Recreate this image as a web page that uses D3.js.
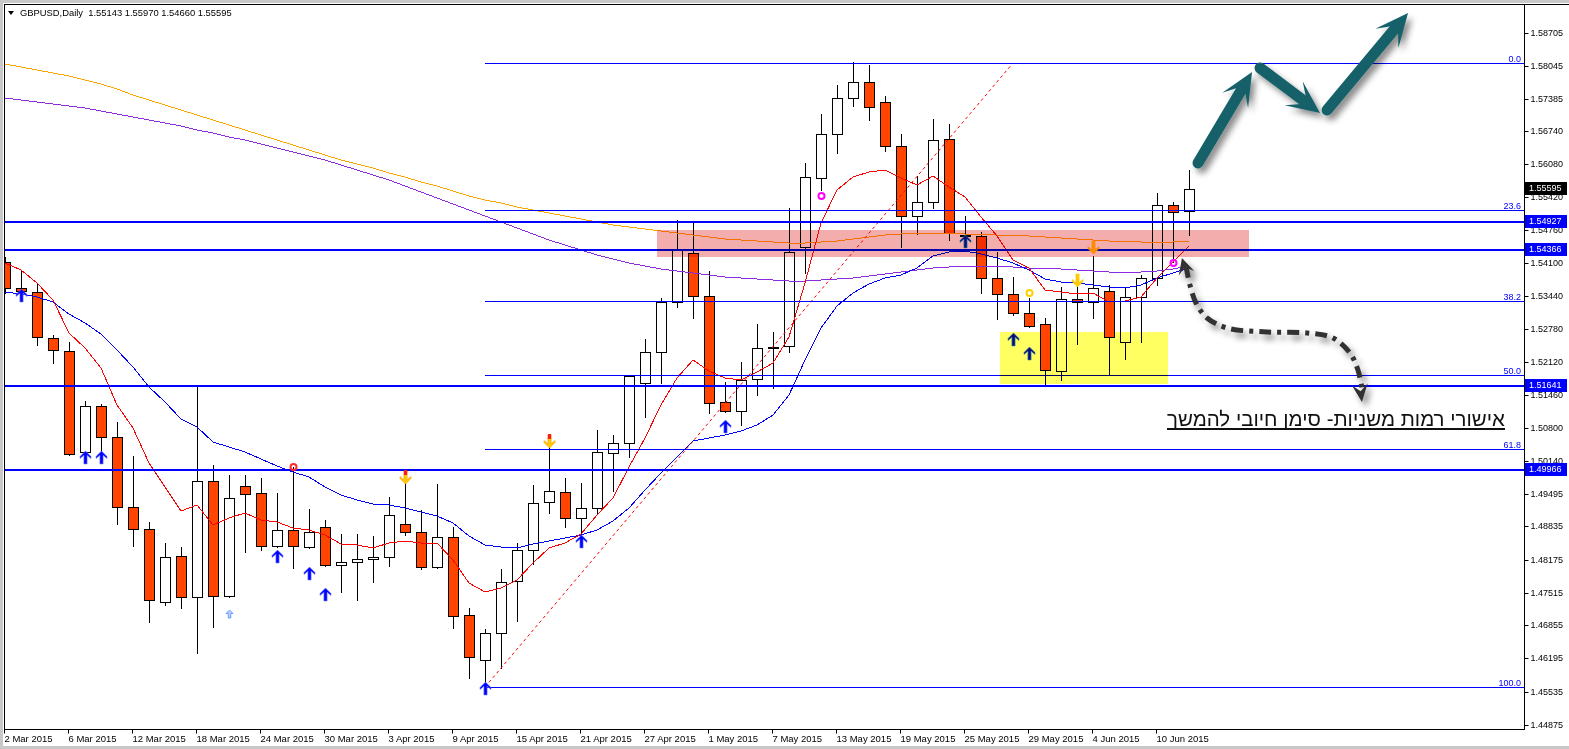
<!DOCTYPE html>
<html><head><meta charset="utf-8">
<script src="https://cdn.jsdelivr.net/npm/d3@7"></script>
<style>html,body{margin:0;padding:0;background:#fff;overflow:hidden}svg{display:block}</style>
</head><body>
<svg id="chart" width="1569" height="749"></svg>
<script>
// ---------------- DATA ----------------
const symbol = "GBPUSD,Daily";
const barDates = ["2015-03-02","2015-03-03","2015-03-04","2015-03-05","2015-03-06","2015-03-09","2015-03-10","2015-03-11","2015-03-12","2015-03-13","2015-03-16","2015-03-17","2015-03-18","2015-03-19","2015-03-20","2015-03-23","2015-03-24","2015-03-25","2015-03-26","2015-03-27","2015-03-30","2015-03-31","2015-04-01","2015-04-02","2015-04-03","2015-04-06","2015-04-07","2015-04-08","2015-04-09","2015-04-10","2015-04-13","2015-04-14","2015-04-15","2015-04-16","2015-04-17","2015-04-20","2015-04-21","2015-04-22","2015-04-23","2015-04-24","2015-04-27","2015-04-28","2015-04-29","2015-04-30","2015-05-01","2015-05-04","2015-05-05","2015-05-06","2015-05-07","2015-05-08","2015-05-11","2015-05-12","2015-05-13","2015-05-14","2015-05-15","2015-05-18","2015-05-19","2015-05-20","2015-05-21","2015-05-22","2015-05-25","2015-05-26","2015-05-27","2015-05-28","2015-05-29","2015-06-01","2015-06-02","2015-06-03","2015-06-04","2015-06-05","2015-06-08","2015-06-09","2015-06-10","2015-06-11","2015-06-12"];
const openP = [1.54125,1.53605,1.53525,1.52605,1.52345,1.50325,1.51245,1.50625,1.49225,1.48785,
 1.47325,1.48245,1.47425,1.49745,1.47445,1.49645,1.49505,1.48445,1.48765,1.48425,
 1.48825,1.48065,1.48125,1.48185,1.48225,1.48885,1.48725,1.48025,1.48625,1.47065,
 1.46165,1.46705,1.47745,1.48365,1.49325,1.49525,1.49005,1.49205,1.50305,1.50505,
 1.51705,1.52325,1.53325,1.54305,1.53445,1.51325,1.51145,1.51785,1.52405,1.52445,
 1.54425,1.55805,1.56685,1.57405,1.57725,1.57325,1.56445,1.55045,1.55325,1.56585,
 1.54665,1.54645,1.53805,1.53485,1.53105,1.52885,1.51945,1.53385,1.53325,1.53545,
 1.52525,1.53425,1.53805,1.55265,1.55143];
const highP = [1.54225,1.53945,1.53705,1.52665,1.52525,1.51345,1.51285,1.50925,1.50245,1.48925,
 1.48505,1.48425,1.51625,1.50065,1.49865,1.49865,1.49805,1.49505,1.50025,1.49185,
 1.48965,1.48685,1.48685,1.48645,1.49425,1.49725,1.49165,1.49685,1.48825,1.47205,
 1.46785,1.47985,1.48505,1.49665,1.50565,1.49805,1.49705,1.50765,1.50665,1.51845,
 1.52585,1.53405,1.54965,1.54905,1.53945,1.51725,1.52125,1.52885,1.52725,1.55205,
 1.56105,1.57085,1.57665,1.58125,1.58065,1.57445,1.56685,1.55845,1.56985,1.56885,
 1.55045,1.54725,1.54325,1.53825,1.53405,1.53005,1.53625,1.53705,1.54245,1.53665,
 1.53625,1.53865,1.55505,1.55325,1.55970];
const lowP = [1.53505,1.53505,1.52465,1.52105,1.50265,1.50305,1.50305,1.48885,1.48445,1.46925,
 1.47265,1.47205,1.46305,1.46825,1.47425,1.48325,1.48365,1.48425,1.48005,1.48405,
 1.48045,1.47525,1.47365,1.47725,1.48045,1.48665,1.47985,1.48005,1.46805,1.45805,
 1.45625,1.46005,1.46945,1.48085,1.49105,1.48825,1.48665,1.49105,1.49545,1.50225,
 1.51025,1.51705,1.53225,1.53005,1.51105,1.51125,1.50865,1.51465,1.51605,1.52325,
 1.53905,1.55565,1.56305,1.57245,1.56965,1.56345,1.54425,1.54685,1.55205,1.54565,
 1.54465,1.53505,1.52985,1.53065,1.52825,1.51645,1.51765,1.52485,1.53005,1.51865,
 1.52185,1.52525,1.53665,1.54125,1.54660];
const closeP = [1.53605,1.53545,1.52625,1.52365,1.50285,1.51245,1.50625,1.49225,1.48785,1.47365,
 1.48225,1.47425,1.49745,1.47445,1.49405,1.49485,1.48445,1.48765,1.48445,1.48725,
 1.48065,1.48125,1.48185,1.48225,1.49065,1.48725,1.48025,1.48625,1.47045,1.46225,
 1.46705,1.47725,1.48365,1.49305,1.49545,1.49005,1.49205,1.50325,1.50505,1.51845,
 1.52325,1.53325,1.54365,1.53445,1.51305,1.51145,1.51765,1.52405,1.52425,1.54325,
 1.55825,1.56685,1.57405,1.57725,1.57225,1.56445,1.55045,1.55325,1.56565,1.54705,
 1.54645,1.53805,1.53485,1.53105,1.52845,1.51965,1.53385,1.53325,1.53605,1.52625,
 1.53425,1.53805,1.55265,1.55125,1.55595];
// moving averages (red fast, blue mid, purple slow, orange long)
const maFast = [1.54105,1.53965,1.53705,1.53365,1.52705,1.52405,1.52005,1.51265,1.50805,1.50105,
 1.49625,1.49145,1.49265,1.48865,1.49005,1.49105,1.48965,1.48925,1.48805,1.48765,
 1.48665,1.48485,1.48465,1.48405,1.48505,1.48545,1.48505,1.48505,1.48165,1.47705,
 1.47525,1.47605,1.47765,1.48105,1.48405,1.48505,1.48685,1.49065,1.49405,1.50025,
 1.50605,1.51265,1.51805,1.52165,1.51945,1.51805,1.51765,1.51925,1.52105,1.52625,
 1.53705,1.54905,1.55565,1.55825,1.55925,1.55965,1.55805,1.55665,1.55845,1.55625,
 1.55425,1.55025,1.54645,1.54165,1.54005,1.53565,1.53525,1.53485,1.53505,1.53325,
 1.53345,1.53425,1.53805,1.54125,1.54445];
const maMid = [1.53525,1.53485,1.53425,1.53325,1.53085,1.52905,1.52685,1.52365,1.52025,1.51625,
 1.51325,1.50985,1.50825,1.50525,1.50425,1.50325,1.50185,1.50045,1.49925,1.49825,
 1.49625,1.49465,1.49365,1.49285,1.49265,1.49205,1.49125,1.49045,1.48905,1.48645,
 1.48465,1.48425,1.48405,1.48485,1.48545,1.48605,1.48665,1.48765,1.48945,1.49205,
 1.49565,1.49905,1.50225,1.50545,1.50605,1.50665,1.50745,1.50865,1.51065,1.51465,
 1.52165,1.52805,1.53245,1.53505,1.53685,1.53805,1.53865,1.54005,1.54245,1.54325,
 1.54345,1.54285,1.54205,1.54105,1.53965,1.53785,1.53725,1.53705,1.53665,1.53625,
 1.53605,1.53665,1.53805,1.53905,1.54005];
const maSlow = [1.57405,1.57365,1.57325,1.57285,1.57245,1.57205,1.57145,1.57085,1.57025,1.56965,
 1.56905,1.56845,1.56765,1.56705,1.56625,1.56565,1.56485,1.56405,1.56325,1.56245,
 1.56165,1.56065,1.55965,1.55865,1.55765,1.55645,1.55525,1.55405,1.55285,1.55165,
 1.55045,1.54925,1.54805,1.54685,1.54565,1.54465,1.54365,1.54265,1.54185,1.54105,
 1.54045,1.53985,1.53945,1.53905,1.53865,1.53825,1.53805,1.53785,1.53765,1.53745,
 1.53745,1.53765,1.53785,1.53805,1.53845,1.53885,1.53925,1.53965,1.54005,1.54025,
 1.54045,1.54045,1.54045,1.54025,1.54005,1.54005,1.53985,1.53965,1.53945,1.53925,
 1.53925,1.53925,1.53945,1.53985,1.54045];
const maLong = [1.58085,1.58025,1.57965,1.57905,1.57845,1.57765,1.57685,1.57585,1.57465,1.57365,
 1.57265,1.57165,1.57065,1.56965,1.56865,1.56765,1.56665,1.56565,1.56465,1.56365,
 1.56265,1.56165,1.56085,1.56005,1.55905,1.55825,1.55725,1.55645,1.55545,1.55445,
 1.55365,1.55305,1.55225,1.55165,1.55105,1.55045,1.54985,1.54925,1.54865,1.54825,
 1.54785,1.54745,1.54705,1.54665,1.54625,1.54585,1.54565,1.54545,1.54525,1.54505,
 1.54505,1.54525,1.54545,1.54585,1.54625,1.54665,1.54685,1.54705,1.54705,1.54705,
 1.54685,1.54685,1.54665,1.54665,1.54645,1.54625,1.54605,1.54585,1.54565,1.54545,
 1.54545,1.54525,1.54525,1.54525,1.54545];
const priceTicks = [1.58705,1.58045,1.57385,1.56740,1.56080,1.55420,1.54760,1.54100,1.53440,1.52780,1.52120,1.51460,1.50800,1.50140,1.49495,1.48835,1.48175,1.47515,1.46855,1.46195,1.45535,1.44875];
const dateTickIdx = [0,4,8,12,16,20,24,28,32,36,40,44,48,52,56,60,64,68,72];
const levelPrices = [1.54927,1.54366,1.51641,1.49966];
const lastPrice = 1.55595;
const fibRatios = [0,23.6,38.2,50,61.8,100];
const fibHigh = 1.58105, fibLow = 1.45625, fibStartIdx = 30, fibEndIdx = 63;
// zones [idxFrom, idxTo, priceTop, priceBottom]
const pinkZone = [40.75, 77.75, 1.54765, 1.54225];
const yellowZone = [62.19, 72.69, 1.52725, 1.51685];
// indicator arrows
const upArrowIdx   = [1,5,6,17,19,20,30,36,45,60,63,64];
const upArrowPrice = [1.53585,1.50345,1.50345,1.48365,1.48025,1.47605,1.45725,1.48665,1.50965,1.54665,1.52705,1.52425];
const upArrowKind  = ["b","b","b","b","b","b","b","b","b","n","n","n"];
const smallUpIdx = [14], smallUpPrice = [1.47165];
const downArrowIdx   = [25,34,67,68];
const downArrowPrice = [1.49685,1.50405,1.53625,1.54285];
const downArrowKind  = ["fire","fire","yellow","orange"];
const dotIdx   = [18,51,73,64];
const dotPrice = [1.50025,1.55445,1.54105,1.53505];
const dotColor = ["#ff2a2a","#ff00ff","#ff00ff","#ffd000"];
// hand-drawn annotation (bar index, price)
const tealArrows = [[[74.56,1.56105],[77.94,1.57925]],[[78.44,1.58005],[82.19,1.57105]],[[82.63,1.57165],[87.69,1.59105]]];
const curvePts = [[73.81,1.54045],[74.06,1.53665],[74.44,1.53305],[75.13,1.53005],[76.38,1.52805],[78.88,1.52725],[81.38,1.52705],[83.0,1.52605],[84.06,1.52305],[84.56,1.51965],[84.81,1.51605]];
const curveStartTip = [73.56,1.54205], curveEndTip = [84.81,1.51325];
const noteText = "אישורי רמות משניות- סימן חיובי להמשך";

// ---------------- LAYOUT ----------------
const W = 1569, H = 749, PL = 5, PR = 1524, PT = 5, PB = 729;
const FONT = "'Liberation Sans', Arial, sans-serif";
const svg = d3.select("#chart");
const x = d3.scaleLinear().domain([0, 74]).range([5, 1189]);
const y = d3.scaleLinear().domain([1.44875, 1.58705]).range([724.5, 33]);
const cx = i => Math.round(x(i));
const ry = p => Math.round(y(p));

const defs = svg.append("defs");
defs.append("clipPath").attr("id","plot").append("rect").attr("x",PL).attr("y",PT).attr("width",PR-PL).attr("height",PB-PT);
const f = defs.append("filter").attr("id","shadow").attr("x","-30%").attr("y","-30%").attr("width","160%").attr("height","160%");
f.append("feDropShadow").attr("dx",4).attr("dy",5).attr("stdDeviation",3).attr("flood-color","#000").attr("flood-opacity",0.45);

// frame
svg.append("rect").attr("width",W).attr("height",H).attr("fill","#c8c8c8");
svg.append("rect").attr("x",3).attr("y",3).attr("width",W-3).attr("height",743).attr("fill","#fff");
const plot = svg.append("g").attr("clip-path","url(#plot)");

// candles
const bars = barDates.map((d,i)=>({i, o:openP[i], h:highP[i], l:lowP[i], c:closeP[i]}));
plot.append("g").selectAll("line").data(bars).join("line")
  .attr("x1",d=>cx(d.i)+0.5).attr("x2",d=>cx(d.i)+0.5)
  .attr("y1",d=>ry(d.h)).attr("y2",d=>ry(d.l)+1)
  .attr("stroke","#000").attr("stroke-width",1);
plot.append("g").selectAll("rect").data(bars).join("rect")
  .attr("x",d=>cx(d.i)-4.5).attr("width",10)
  .attr("y",d=>ry(Math.max(d.o,d.c))+0.5)
  .attr("height",d=>Math.max(0, ry(Math.min(d.o,d.c))-ry(Math.max(d.o,d.c))))
  .attr("fill",d=>d.c>=d.o?"#ffffff":"#ff4500")
  .attr("stroke","#000").attr("stroke-width",1);

// moving averages
const maLine = d3.line().x((v,i)=>x(i)).y(v=>y(v));
[[maLong,"#ffa500"],[maSlow,"#8a2be2"],[maMid,"#0000ff"],[maFast,"#ff0000"]].forEach(([arr,col])=>{
  plot.append("path").attr("d",maLine(arr)).attr("fill","none").attr("stroke",col).attr("stroke-width",1).attr("shape-rendering","crispEdges");
});

// fibonacci
const fibG = plot.append("g");
fibG.append("line").attr("x1",x(fibStartIdx)).attr("y1",y(fibLow)).attr("x2",x(fibEndIdx)).attr("y2",y(fibHigh))
  .attr("stroke","#ff0000").attr("stroke-width",1).attr("stroke-dasharray","3,3");
fibRatios.forEach(r=>{
  const p = fibHigh - r/100*(fibHigh-fibLow);
  const yy = ry(p)+0.5;
  fibG.append("line").attr("x1",cx(fibStartIdx)).attr("x2",PR).attr("y1",yy).attr("y2",yy)
    .style("stroke","#0000ff").attr("stroke-width",1).attr("shape-rendering","crispEdges");
  fibG.append("text").attr("x",PR-3).attr("y",yy-2).attr("text-anchor","end").attr("font-family",FONT).attr("font-size",9).attr("fill","#0000ff").text(r.toFixed(1));
});
// thick level lines
levelPrices.forEach(p=>{
  const yy = ry(p);
  plot.append("line").attr("x1",PL).attr("x2",PR).attr("y1",yy).attr("y2",yy).attr("stroke","#0000ff").attr("stroke-width",2).attr("shape-rendering","crispEdges");
});

// zones (multiply blend like the terminal drawing)
[[pinkZone,"#f3adad"],[yellowZone,"#ffff62"]].forEach(([z,col])=>{
  plot.append("rect").attr("x",Math.round(x(z[0]))).attr("width",Math.round(x(z[1]))-Math.round(x(z[0])))
    .attr("y",ry(z[2])).attr("height",ry(z[3])-ry(z[2])).attr("fill",col).style("mix-blend-mode","multiply");
});

// indicator arrows
const upPath = "M0,0 L5.5,5.5 L5.5,7.5 L1.6,4.2 L1.6,13 L-1.6,13 L-1.6,4.2 L-5.5,7.5 L-5.5,5.5 Z";
const mk = plot.append("g");
upArrowIdx.forEach((idx,k)=>{
  mk.append("path").attr("d",upPath).attr("transform",`translate(${cx(idx)+0.5},${ry(upArrowPrice[k])})`)
    .attr("fill",upArrowKind[k]==="n"?"#0c0c78":"#0000ff").attr("stroke",upArrowKind[k]==="n"?"#2f8fa0":"#6f7fff").attr("stroke-width",0.6);
});
smallUpIdx.forEach((idx,k)=>{
  mk.append("path").attr("d","M0,0 L3.5,3.5 L1.3,3.5 L1.3,8 L-1.3,8 L-1.3,3.5 L-3.5,3.5 Z").attr("transform",`translate(${cx(idx)+0.5},${ry(smallUpPrice[k])})`)
    .attr("fill","#b8d0ff").attr("stroke","#5a8cff").attr("stroke-width",0.8);
});
const downPath = "M0,0 L5.5,-5.5 L5.5,-7.5 L1.6,-4.2 L1.6,-13 L-1.6,-13 L-1.6,-4.2 L-5.5,-7.5 L-5.5,-5.5 Z";
downArrowIdx.forEach((idx,k)=>{
  const kind = downArrowKind[k];
  const g = mk.append("g").attr("transform",`translate(${cx(idx)+0.5},${ry(downArrowPrice[k])})`);
  const col = kind==="orange" ? "#ff8c00" : "#ffcc00";
  g.append("path").attr("d",downPath).attr("fill",col).attr("stroke",kind==="fire"?"#ff9900":col).attr("stroke-width",0.6);
  if(kind==="fire") g.append("rect").attr("x",-1.6).attr("y",-14).attr("width",3.2).attr("height",5).attr("fill","#ff1a1a");
});
dotIdx.forEach((idx,k)=>{
  mk.append("circle").attr("cx",cx(idx)+0.5).attr("cy",ry(dotPrice[k])).attr("r",3).attr("fill","none").attr("stroke",dotColor[k]).attr("stroke-width",2);
});

// frame lines
svg.append("line").attr("x1",4).attr("x2",W).attr("y1",4.5).attr("y2",4.5).attr("stroke","#000");
svg.append("line").attr("x1",4.5).attr("x2",4.5).attr("y1",4).attr("y2",PB+1).attr("stroke","#000");
svg.append("line").attr("x1",4).attr("x2",PR+1).attr("y1",PB+0.5).attr("y2",PB+0.5).attr("stroke","#000");
svg.append("line").attr("x1",PR+0.5).attr("x2",PR+0.5).attr("y1",4).attr("y2",PB+1).attr("stroke","#000");

// price axis
const yAxis = d3.axisRight(y).tickValues(priceTicks).tickSize(4).tickFormat(d=>d.toFixed(5));
const ya = svg.append("g").attr("transform",`translate(${PR+0.5},0)`).call(yAxis);
ya.select(".domain").remove();
ya.selectAll(".tick").attr("transform",d=>`translate(0,${ry(d)+0.5})`);
ya.selectAll("text").attr("font-family",FONT).attr("font-size",9).attr("fill","#000").attr("x",6);

// date axis
const fmt = d3.timeFormat("%-d %b %Y"), parse = d3.timeParse("%Y-%m-%d");
const xAxis = d3.axisBottom(x).tickValues(dateTickIdx).tickSize(4).tickFormat(i=>fmt(parse(barDates[i])));
const xa = svg.append("g").attr("transform",`translate(0,${PB+0.5})`).call(xAxis);
xa.select(".domain").remove();
xa.selectAll(".tick").attr("transform",d=>`translate(${cx(d)-0.5},0)`);
xa.selectAll("text").attr("font-family",FONT).attr("font-size",9.5).attr("fill","#000").attr("text-anchor","start").attr("x",0).attr("y",6);

// level boxes
function box(p, fill){
  const yy = ry(p);
  svg.append("rect").attr("x",PR+1).attr("y",yy-7).attr("width",42).attr("height",13).attr("fill",fill);
  svg.append("text").attr("x",PR+5).attr("y",yy-1).attr("dy","0.33em").attr("font-family",FONT).attr("font-size",9).attr("fill","#fff").text(p.toFixed(5));
}
levelPrices.forEach(p=>box(p,"#0000ff"));
box(lastPrice,"#000");

// title
svg.append("path").attr("d","M8,11 L14,11 L11,15 Z").attr("fill","#000");
svg.append("text").attr("x",20).attr("y",13).attr("dy","0.35em").attr("font-family",FONT).attr("font-size",9.4).attr("fill","#000")
  .style("white-space","pre").text(`${symbol}  ${openP[74].toFixed(5)} ${highP[74].toFixed(5)} ${lowP[74].toFixed(5)} ${closeP[74].toFixed(5)}`);

// annotations: teal arrows
const ann = svg.append("g").attr("clip-path","url(#plot)");
const P = d => [x(d[0]), y(d[1])];
const teal = ann.append("g").attr("filter","url(#shadow)");
tealArrows.forEach(([s,t])=>{
  const [sx,sy] = P(s), [tx,ty] = P(t);
  const len = Math.hypot(tx-sx,ty-sy), ux=(tx-sx)/len, uy=(ty-sy)/len, nx=-uy, ny=ux;
  const Lh=33, hw=15, Ln=16;
  teal.append("line").attr("x1",sx).attr("y1",sy).attr("x2",tx-ux*Ln).attr("y2",ty-uy*Ln)
    .attr("stroke","#17616a").attr("stroke-width",11).attr("stroke-linecap","round");
  teal.append("path").attr("d",`M${tx},${ty} L${tx-ux*Lh+nx*hw},${ty-uy*Lh+ny*hw} L${tx-ux*Ln},${ty-uy*Ln} L${tx-ux*Lh-nx*hw},${ty-uy*Lh-ny*hw} Z`)
    .attr("fill","#17616a");
});
// curved dash-dot arrow
const cg = ann.append("g").attr("filter","url(#shadow)");
const pts = curvePts.map(P);
cg.append("path").attr("d",d3.line().curve(d3.curveCatmullRom)(pts)).attr("fill","none").attr("stroke","#333")
  .attr("stroke-width",5).attr("stroke-dasharray","12,6,4,6");
function head(tip, from, L, hw){
  const [tx,ty]=P(tip), [fx,fy]=from;
  const len=Math.hypot(tx-fx,ty-fy), ux=(tx-fx)/len, uy=(ty-fy)/len, nx=-uy, ny=ux;
  cg.append("path").attr("d",`M${tx},${ty} L${tx-ux*L+nx*hw},${ty-uy*L+ny*hw} L${tx-ux*L*0.6},${ty-uy*L*0.6} L${tx-ux*L-nx*hw},${ty-uy*L-ny*hw} Z`).attr("fill","#333");
}
head(curveStartTip, pts[1], 16, 8);
head(curveEndTip, pts[pts.length-2], 18, 8);

// note text
const nt = svg.append("text").attr("x",1336).attr("y",426).attr("text-anchor","middle").attr("font-family",FONT).attr("font-size",22).attr("fill","#111").text(noteText);
const w0 = nt.node().getComputedTextLength();
nt.attr("font-size", 22*338/w0);
svg.append("line").attr("x1",1167).attr("x2",1505).attr("y1",429).attr("y2",429).attr("stroke","#111").attr("stroke-width",2);
</script>
</body></html>
